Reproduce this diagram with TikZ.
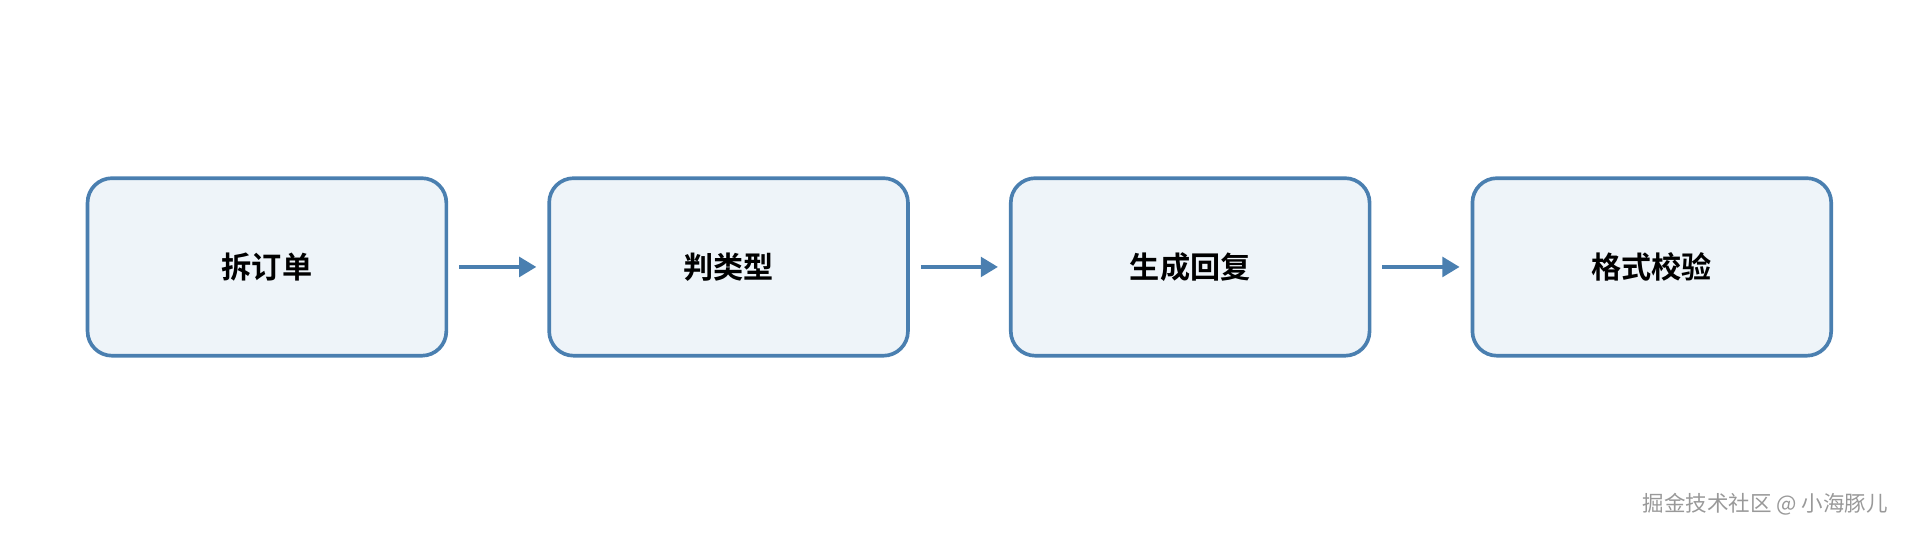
\documentclass[tikz,border=0pt]{standalone}
\usepackage{fontspec}
\newfontfamily\cjk{Noto Sans CJK SC}
\newfontfamily\cjkbold{Noto Sans CJK SC Bold}
\usetikzlibrary{arrows.meta,positioning}
\definecolor{stepline}{HTML}{4A7FB0}
\definecolor{stepfill}{HTML}{EEF4F9}
\tikzset{
  stage/.style={draw=stepline, fill=stepfill, line width=0.85pt, rounded corners=0.2cm,
    minimum width=2.93cm, minimum height=1.45cm, font={\cjkbold\fontsize{7pt}{8pt}\selectfont}},
  flow/.style={draw=stepline, line width=0.85pt, -{Triangle[length=0.14cm,width=0.16cm]},
    shorten <=0.09cm, shorten >=0.09cm}
}
\begin{document}
\begin{tikzpicture}
    \useasboundingbox (0,0) rectangle (15.68,-4.41);
    \node[stage] (split) at (2.18,-2.18) {拆订单};
    \node[stage, right=0.81cm of split] (judge) {判类型};
    \node[stage, right=0.81cm of judge] (reply) {生成回复};
    \node[stage, right=0.81cm of reply] (check) {格式校验};
    \draw[flow] (split) -- (judge);
    \draw[flow] (judge) -- (reply);
    \draw[flow] (reply) -- (check);
    \node[anchor=east, text=gray!80, font={\cjk\fontsize{5pt}{6pt}\selectfont}] (mark) at (15.54,-4.12) {掘金技术社区 @ 小海豚儿};
\end{tikzpicture}
\end{document}
